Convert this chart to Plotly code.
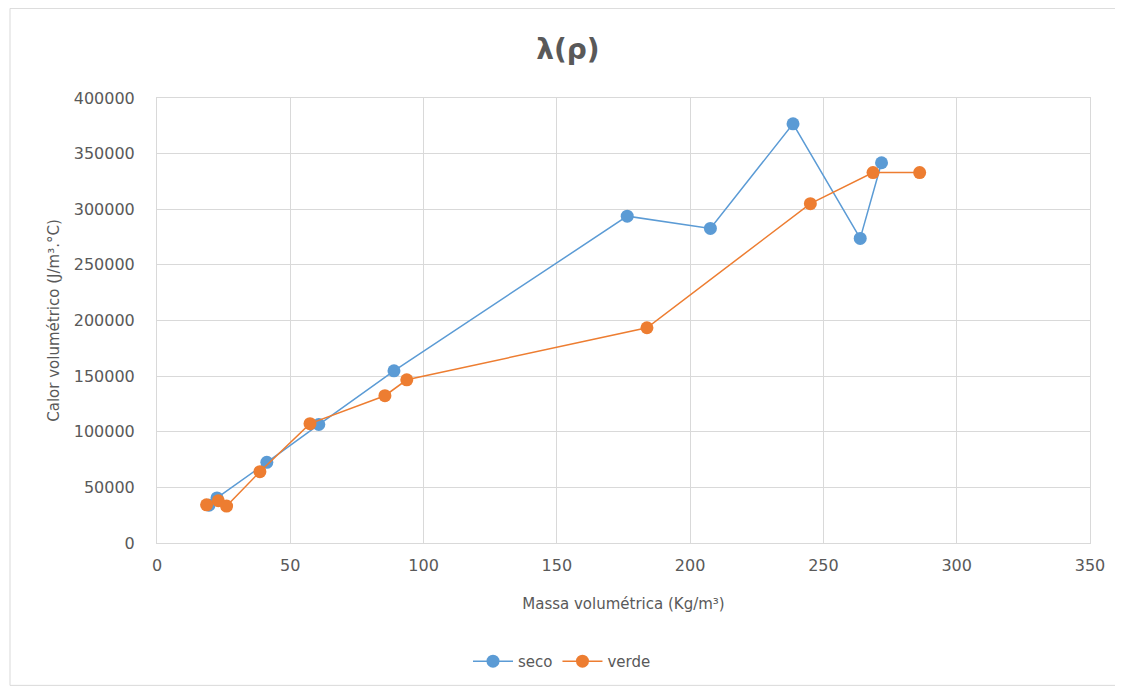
import plotly.graph_objects as go

seco_x = [19.5, 22.5, 41.2, 60.7, 88.9, 176.4, 207.6, 238.6, 263.8, 271.8]
seco_y = [34000, 40500, 72500, 106500, 154800, 293800, 282800, 376800, 273800, 341800]

verde_x = [18.6, 23.0, 26.1, 38.6, 57.4, 85.5, 93.7, 183.8, 245.1, 268.6, 286.1]
verde_y = [34300, 38000, 33200, 64100, 107300, 132400, 146700, 193500, 305000, 333000, 333000]

x_ticks = [0, 50, 100, 150, 200, 250, 300, 350]
y_ticks = [0, 50000, 100000, 150000, 200000, 250000, 300000, 350000, 400000]

FONT = "DejaVu Sans"
GRAY = "#595959"
GRID = "#d9d9d9"

fig = go.Figure()
fig.add_trace(go.Scatter(x=seco_x, y=seco_y, mode="lines+markers", name="seco",
                         line=dict(color="#5B9BD5", width=1.5),
                         marker=dict(color="#5B9BD5", size=13)))
fig.add_trace(go.Scatter(x=verde_x, y=verde_y, mode="lines+markers", name="verde",
                         line=dict(color="#ED7D31", width=1.5),
                         marker=dict(color="#ED7D31", size=13)))

W, H = 1115, 682
L, T = 149, 90
PW, PH = 933, 447

fig.update_layout(
    width=W, height=H,
    margin=dict(l=L, r=W - L - PW, t=T, b=H - T - PH),
    paper_bgcolor="white", plot_bgcolor="white",
    font=dict(family=FONT, color=GRAY, size=15),
    title=dict(text="<b>λ(ρ)</b>", xref="container", x=(568 - 8) / W, xanchor="center",
               yref="container", y=1 - (49 - 8) / H, yanchor="middle",
               font=dict(family=FONT, size=28, color=GRAY)),
    legend=dict(orientation="h", x=(468 - 157) / PW, xanchor="left", y=(545 - 664) / PH, yanchor="middle",
                font=dict(family=FONT, size=15, color=GRAY), itemwidth=40),
    xaxis=dict(range=[0, 350], tickvals=x_ticks, ticktext=[str(v) for v in x_ticks],
               showgrid=True, gridcolor=GRID, gridwidth=1,
               zeroline=False, showline=True, linecolor=GRID, mirror=True,
               ticks="", ticklabelstandoff=8, tickfont=dict(size=16, color=GRAY),
               title=dict(text="Massa volumétrica (Kg/m³)", standoff=24,
                          font=dict(size=15, color=GRAY))),
    yaxis=dict(range=[0, 400000], tickvals=y_ticks, ticktext=[str(v) for v in y_ticks],
               showgrid=True, gridcolor=GRID, gridwidth=1,
               zeroline=False, showline=True, linecolor=GRID, mirror=True,
               ticks="", ticklabelstandoff=18, tickfont=dict(size=16, color=GRAY),
               title=dict(text="Calor volumétrico (J/m³.°C)", standoff=10,
                          font=dict(size=15, color=GRAY))),
)

fig.add_shape(type="rect", xref="paper", yref="paper",
              x0=(10 - 157) / PW, x1=(1120 - 157) / PW,
              y0=(545 - 688) / PH, y1=(545 - 8) / PH,
              line=dict(color="#d9d9d9", width=1), fillcolor="rgba(0,0,0,0)", layer="below")

fig.write_html("out.html")
